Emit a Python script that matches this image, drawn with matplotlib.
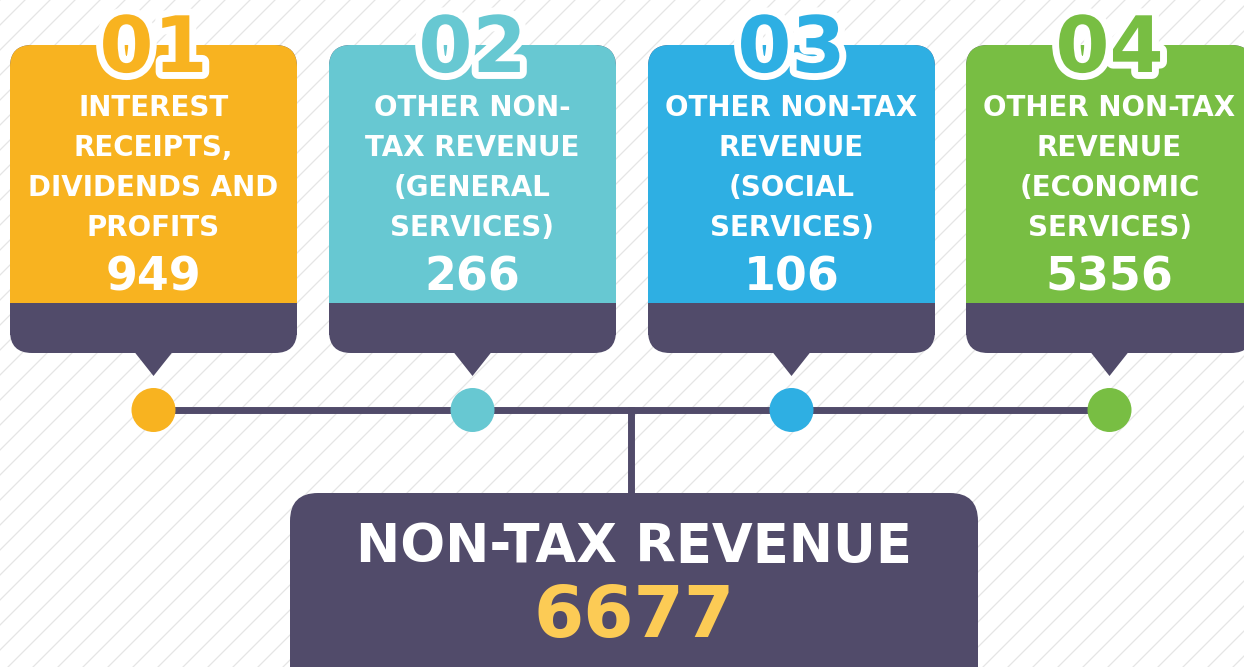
import numpy as np
import matplotlib.pyplot as plt
from matplotlib.patches import FancyBboxPatch, Rectangle, Polygon, Circle
import matplotlib.patheffects as pe

# data
numbers = ["01", "02", "03", "04"]
labels = ["INTEREST\nRECEIPTS,\nDIVIDENDS AND\nPROFITS",
          "OTHER NON-\nTAX REVENUE\n(GENERAL\nSERVICES)",
          "OTHER NON-TAX\nREVENUE\n(SOCIAL\nSERVICES)",
          "OTHER NON-TAX\nREVENUE\n(ECONOMIC\nSERVICES)"]
values = [949, 266, 106, 5356]
total_label = "NON-TAX REVENUE"
total_value = 6677
colors = ["#F8B320", "#67C8D2", "#2EAFE3", "#78BE43"]
dark = "#514B6A"
gold = "#FCCB55"

W, H = 1244, 667
fig = plt.figure(figsize=(W / 100, H / 100), dpi=100)
ax = fig.add_axes([0, 0, 1, 1])
ax.set_xlim(0, W)
ax.set_ylim(H, 0)
ax.axis("off")

# diagonal stripes in the background
for s in np.arange(-H, W + H, 25):
    ax.plot([s, s + H], [H, 0], color="#E5E5E5", lw=0.9, zorder=0)

lefts = [10, 329, 648, 966]
bw = 287
top, split, bottom = 45, 303, 353
r = 22
line_y = 410

for i in range(4):
    x0 = lefts[i]
    cx = x0 + bw / 2
    # dark base
    ax.add_patch(FancyBboxPatch((x0, top), bw, bottom - top,
                                boxstyle=f"round,pad=0,rounding_size={r}",
                                fc=dark, ec="none", zorder=2))
    # coloured upper part
    ax.add_patch(FancyBboxPatch((x0, top), bw, split - top + 30,
                                boxstyle=f"round,pad=0,rounding_size={r}",
                                fc=colors[i], ec="none", zorder=3))
    ax.add_patch(Rectangle((x0, split), bw, 32, fc=dark, ec="none", zorder=4))
    # pointer
    ax.add_patch(Polygon([(cx - 19, bottom - 1), (cx + 19, bottom - 1), (cx, 376)],
                         closed=True, fc=dark, ec="none", zorder=4))
    # number badge
    ax.text(cx, 50, numbers[i], ha="center", va="center", fontsize=56,
            fontweight="heavy", color=colors[i], zorder=6,
            path_effects=[pe.withStroke(linewidth=10, foreground="white")])
    # label
    for j, line in enumerate(labels[i].split("\n")):
        ax.text(cx, 108 + 40 * j, line, ha="center", va="center", fontsize=20,
                fontweight="bold", color="white", zorder=6)
    ax.text(cx, 278, str(values[i]), ha="center", va="center", fontsize=33,
            fontweight="bold", color="white", zorder=6)

centers = [l + bw / 2 for l in lefts]
ax.plot([centers[0], centers[-1]], [line_y, line_y], color=dark, lw=5, zorder=2,
        solid_capstyle="butt")
for i, cx in enumerate(centers):
    ax.add_patch(Circle((cx, line_y), 22, fc=colors[i], ec="none", zorder=5))

ax.plot([631, 631], [line_y, 500], color=dark, lw=5, zorder=2)

# total box
ax.add_patch(FancyBboxPatch((290, 493), 688, 220,
                            boxstyle="round,pad=0,rounding_size=28",
                            fc=dark, ec="none", zorder=3))
ax.text(634, 547, total_label, ha="center", va="center", fontsize=38,
        fontweight="bold", color="white", zorder=6)
ax.text(634, 618, str(total_value), ha="center", va="center", fontsize=52,
        fontweight="bold", color=gold, zorder=6)

fig.savefig("out.png", dpi=100, facecolor="white")
